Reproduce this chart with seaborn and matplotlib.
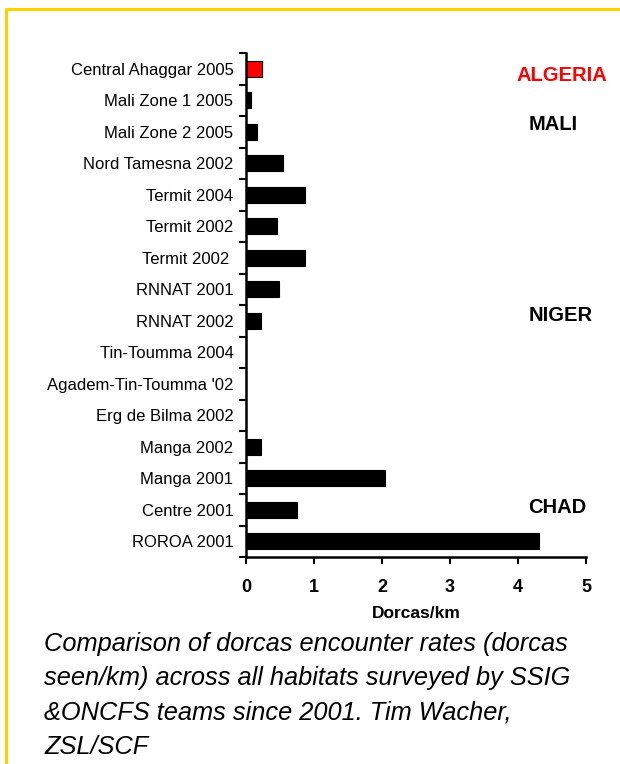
import matplotlib
matplotlib.use("Agg")
import matplotlib.pyplot as plt
import seaborn as sns
import pandas as pd
from matplotlib.lines import Line2D

sites = ["Central Ahaggar 2005", "Mali Zone 1 2005", "Mali Zone 2 2005", "Nord Tamesna 2002",
         "Termit 2004", "Termit 2002", "Termit 2002 ", "RNNAT 2001", "RNNAT 2002",
         "Tin-Toumma 2004", "Agadem-Tin-Toumma '02", "Erg de Bilma 2002", "Manga 2002",
         "Manga 2001", "Centre 2001", "ROROA 2001"]
rates = [0.23, 0.07, 0.16, 0.54, 0.87, 0.46, 0.87, 0.49, 0.22, 0.0, 0.0, 0.0, 0.22, 2.04, 0.75, 4.31]
bar_colors = ["#FF0000"] + ["#000000"] * 15
countries = ["ALGERIA", "MALI", "NIGER", "CHAD"]
country_rows = [0.23, 1.78, 7.83, 13.93]
country_x = [3.98, 4.15, 4.15, 4.15]
country_colors = ["#FF0000", "#000000", "#000000", "#000000"]
xticks = [0, 1, 2, 3, 4, 5]
caption = ("Comparison of dorcas encounter rates (dorcas\n"
           "seen/km) across all habitats surveyed by SSIG\n"
           "&ONCFS teams since 2001. Tim Wacher,\n"
           "ZSL/SCF")

sns.set_style("white")
plt.rcParams['font.family'] = ['Liberation Sans', 'DejaVu Sans']
plt.rcParams['text.color'] = 'black'
plt.rcParams['xtick.color'] = 'black'
plt.rcParams['ytick.color'] = 'black'
plt.rcParams['axes.labelcolor'] = 'black'

df = pd.DataFrame({"site": sites, "rate": rates})

fig = plt.figure(figsize=(6.2, 7.64), dpi=100)
ax = fig.add_axes([246/620, 1 - 557/764, 340/620, 504/764])
sns.barplot(data=df, y="site", x="rate", hue="site", palette=bar_colors, legend=False,
            orient="h", width=0.5, edgecolor="#000000", linewidth=0.8, ax=ax, saturation=1)

ax.set_xlim(0, 5)
ax.set_ylim(15.5, -0.5)
ax.set_xticks(xticks)
ax.set_xticklabels([str(t) for t in xticks])
ax.set_yticks(range(len(sites)))
ax.set_yticklabels(sites)
ax.tick_params(axis="y", which="major", left=True, length=0, pad=9, labelsize=12)
ax.set_yticks([i - 0.5 for i in range(len(sites) + 1)], minor=True)
ax.tick_params(axis="y", which="minor", left=True, length=5, width=1.5, direction="out", color="black")
ax.tick_params(axis="x", bottom=True, length=5, width=1.5, direction="out", color="black",
               pad=11, labelsize=13)
for lab in ax.get_xticklabels():
    lab.set_fontweight("bold")
ax.set_xlabel("Dorcas/km", fontsize=12.5, fontweight="bold", labelpad=7)
ax.set_ylabel("")
for s in ["top", "right"]:
    ax.spines[s].set_visible(False)
for s in ["left", "bottom"]:
    ax.spines[s].set_linewidth(1.8)
    ax.spines[s].set_color("black")

for name, x, row, col in zip(countries, country_x, country_rows, country_colors):
    ax.text(x, row, name, color=col, fontsize=14.5, fontweight="bold", ha="left", va="center")

fig.text(44/620, 1 - 632/764, caption, fontsize=18.3, style="italic", ha="left", va="top",
         linespacing=1.54)

gold = "#FFD000"
fig.add_artist(Line2D([6/620, 1], [1 - 9/764, 1 - 9/764], color=gold, lw=2.2, transform=fig.transFigure))
fig.add_artist(Line2D([6/620, 6/620], [1 - 9/764, 0], color=gold, lw=2.2, transform=fig.transFigure))

fig.savefig("out.png", dpi=100)
